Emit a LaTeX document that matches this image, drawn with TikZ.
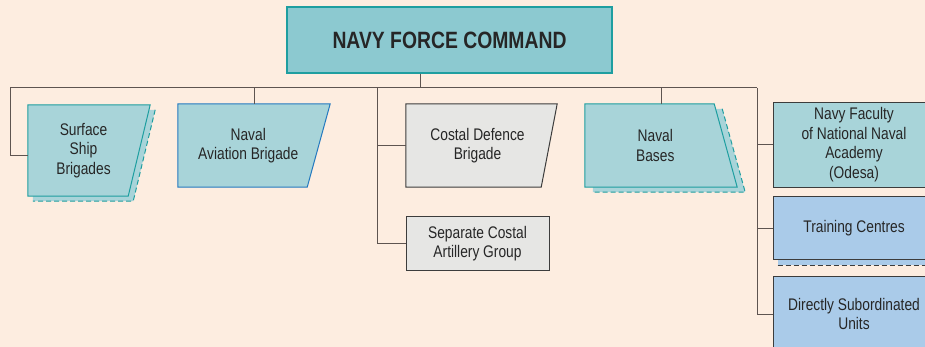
\documentclass[tikz,border=0pt]{standalone}
\usepackage{fontspec}
\setmainfont{Liberation Sans}[FakeStretch=0.82]
\usepackage{tikz}
\usetikzlibrary{positioning, calc, backgrounds}

\definecolor{paper}{HTML}{FDEDE0}
\definecolor{cmdfill}{HTML}{8CC9D0}
\definecolor{tealfill}{HTML}{A8D4D9}
\definecolor{tealline}{HTML}{1E9EA0}
\definecolor{blueline}{HTML}{2379BF}
\definecolor{greyfill}{HTML}{E6E6E4}
\definecolor{bluefill}{HTML}{AACBE9}
\definecolor{darkline}{HTML}{3C3C3C}
\definecolor{linkline}{HTML}{5E5450}
\definecolor{inktext}{HTML}{262626}

\begin{document}
\begin{tikzpicture}[x=1pt, y=-1pt,
  unit/.style={rectangle, align=center, inner sep=0pt, text=inktext,
               font=\fontsize{16.8}{19.5}\selectfont},
  cmdbox/.style={unit, draw=tealline, fill=cmdfill, line width=1.2pt,
                 minimum width=325pt, minimum height=66pt,
                 font=\fontsize{23.6}{27}\selectfont\bfseries},
  greybox/.style={unit, draw=darkline, fill=greyfill, line width=0.8pt},
  bluebox/.style={unit, draw=darkline, fill=bluefill, line width=0.8pt},
  facbox/.style={unit, draw=darkline, fill=tealfill, line width=0.8pt},
  link/.style={draw=linkline, line width=1pt},
  slant/.style={line width=1pt, line join=miter},
  ghost/.style={dash pattern=on 5pt off 3pt, line width=1pt}
]
\useasboundingbox (0,0) rectangle (925,347);

% top
\node[cmdbox] (cmd) at (449.5,40) {NAVY FORCE COMMAND};

% left group
\node[unit, minimum width=111pt, minimum height=91pt] (surf) at (83.5,150.5)
  {Surface\\Ship\\Brigades};
\node[unit, minimum width=140.5pt, minimum height=83pt] (avia) at (248.25,145.5)
  {Naval\\Aviation Brigade};
\node[unit, minimum width=143pt, minimum height=83pt] (def) at (477.5,145.5)
  {Costal Defence\\Brigade};
\node[greybox, minimum width=143pt, minimum height=54pt, below=29pt of def] (art)
  {Separate Costal\\Artillery Group};
\node[unit, minimum width=140.5pt, minimum height=83pt] (bases) at (655.25,145.5)
  {Naval\\Bases};

% right column
\node[facbox, minimum width=162pt, minimum height=85pt] (fac) at (854,144.5)
  {Navy Faculty\\of National Naval\\Academy\\(Odesa)};
\node[bluebox, minimum width=162pt, minimum height=63pt, below=9pt of fac] (train)
  {Training Centres};
\node[bluebox, minimum width=162pt, minimum height=75pt, below=16pt of train] (units)
  {Directly Subordinated\\Units};

% shapes behind the texts
\begin{scope}[on background layer]
  \fill[paper] (0,0) rectangle (925,347);
  % shadows
  \fill[tealfill] ($(surf.north west)+(5,5)$) -- ($(surf.north east)+(16,5)$)
    -- ($(surf.south east)+(-6,5)$) -- ($(surf.south west)+(5,5)$) -- cycle;
  \draw[ghost, tealline] ($(surf.north east)+(16,5)$) -- ($(surf.south east)+(-6,5)$)
    -- ($(surf.south west)+(5,5)$);
  \fill[tealfill] ($(bases.north west)+(8,5)$) -- ($(bases.north east)+(-3.5,5)$)
    -- ($(bases.south east)+(19.5,5)$) -- ($(bases.south west)+(8,5)$) -- cycle;
  \draw[ghost, tealline] ($(bases.north east)+(-3.5,5)$) -- ($(bases.south east)+(19.5,5)$)
    -- ($(bases.south west)+(8,5)$);
  \fill[bluefill] ($(train.north west)+(5,5)$) rectangle ($(train.south east)+(5,5)$);
  \draw[ghost, darkline] ($(train.south west)+(5,5)$) -- ($(train.south east)+(5,5)$);
  % slanted boxes
  \draw[slant, fill=tealfill, draw=tealline] (surf.north west) -- ($(surf.north east)+(11,0)$)
    -- ($(surf.south east)+(-11,0)$) -- (surf.south west) -- cycle;
  \draw[slant, fill=tealfill, draw=blueline] (avia.north west) -- ($(avia.north east)+(11.5,0)$)
    -- ($(avia.south east)+(-11.5,0)$) -- (avia.south west) -- cycle;
  \draw[slant, fill=greyfill, draw=darkline] (def.north west) -- ($(def.north east)+(8,0)$)
    -- ($(def.south east)+(-8,0)$) -- (def.south west) -- cycle;
  \draw[slant, fill=tealfill, draw=tealline] (bases.north west) -- ($(bases.north east)+(-11.5,0)$)
    -- ($(bases.south east)+(11.5,0)$) -- (bases.south west) -- cycle;
\end{scope}

% connectors
\coordinate (busL) at (10,88);
\coordinate (busR) at (757,88);
\coordinate (stem) at (420,88);
\coordinate (trunk) at (377,88);
\draw[link] (stem |- cmd.south) -- (stem);
\draw[link] (busL) -- (busR);
\draw[link] (busL) |- ($(surf.west)+(0,5)$);
\draw[link] ($(avia.north)+(6,0)$) -- ($(avia.north |- busL)+(6,0)$);
\draw[link] (trunk) |- (art.west);
\draw[link] (trunk |- def.west) -- (def.west);
\draw[link] ($(bases.north)+(6,0)$) -- ($(bases.north |- busL)+(6,0)$);
\draw[link] (busR) |- (units.west);
\draw[link] (busR |- fac.west) -- (fac.west);
\draw[link] (busR |- train.west) -- (train.west);

\end{tikzpicture}
\end{document}
